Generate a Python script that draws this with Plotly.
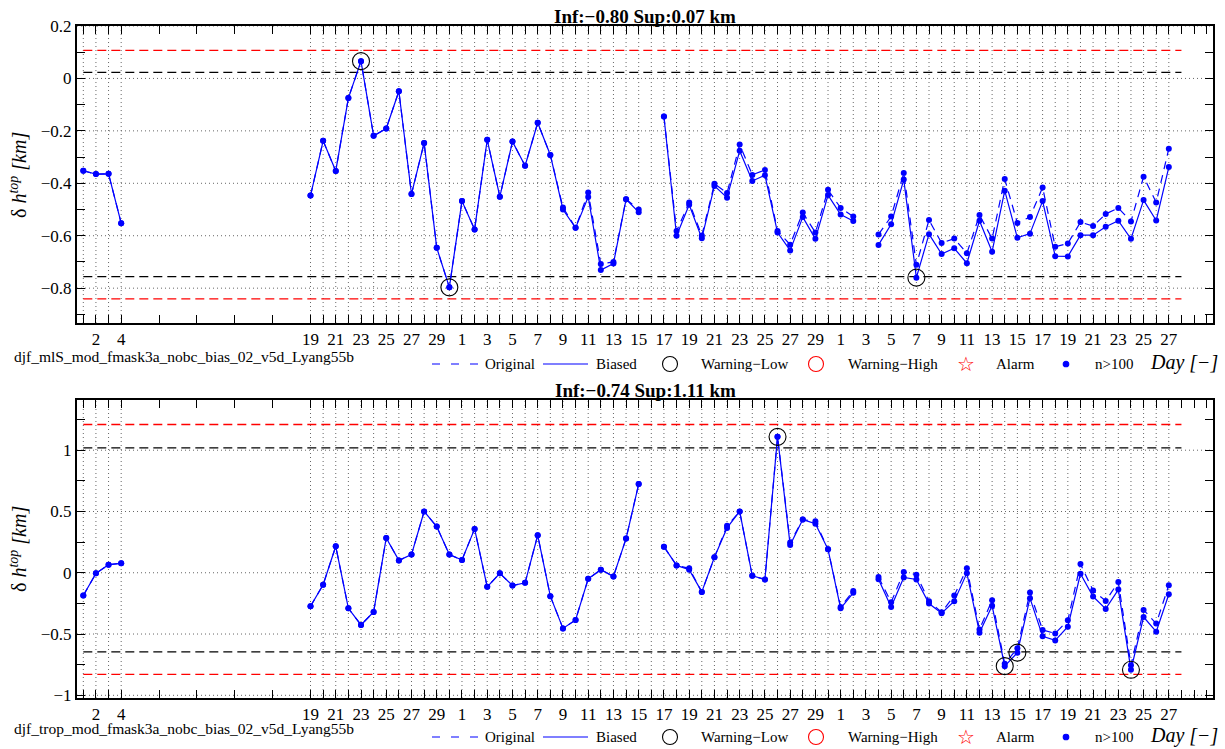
import plotly.graph_objects as go

# ---------------- data ----------------
days = [1, 2, 3, 4] + list(range(19, 46)) + list(range(47, 63)) + list(range(64, 88))

top_original = [-0.352, -0.365, -0.364, -0.552,
                -0.447, -0.238, -0.353, -0.075, 0.066, -0.219, -0.191, -0.049, -0.441, -0.246,
                -0.646, -0.797, -0.468, -0.576, -0.234, -0.451, -0.241, -0.333, -0.169, -0.292,
                -0.492, -0.570, -0.435, -0.708, -0.700, -0.461, -0.500,
                -0.145, -0.582, -0.473, -0.599, -0.402, -0.437, -0.252, -0.368, -0.349, -0.582,
                -0.634, -0.511, -0.588, -0.425, -0.494, -0.527,
                -0.595, -0.527, -0.361, -0.711, -0.540, -0.628, -0.611, -0.667, -0.521, -0.611,
                -0.384, -0.551, -0.529, -0.416, -0.642, -0.630, -0.548, -0.563, -0.517, -0.494,
                -0.546, -0.375, -0.473, -0.268]
top_biased = [-0.352, -0.365, -0.364, -0.552,
              -0.447, -0.238, -0.353, -0.075, 0.066, -0.219, -0.191, -0.049, -0.441, -0.246,
              -0.646, -0.797, -0.468, -0.576, -0.234, -0.451, -0.241, -0.333, -0.169, -0.292,
              -0.500, -0.570, -0.452, -0.731, -0.706, -0.461, -0.510,
              -0.145, -0.600, -0.482, -0.610, -0.410, -0.455, -0.276, -0.391, -0.369, -0.588,
              -0.656, -0.529, -0.612, -0.445, -0.519, -0.544,
              -0.635, -0.556, -0.386, -0.760, -0.594, -0.670, -0.648, -0.705, -0.543, -0.661,
              -0.428, -0.608, -0.592, -0.468, -0.678, -0.679, -0.598, -0.598, -0.566, -0.543,
              -0.612, -0.464, -0.542, -0.338]

bot_original = [-0.186, -0.005, 0.066, 0.077,
                -0.273, -0.098, 0.216, -0.290, -0.426, -0.320, 0.284, 0.101, 0.148, 0.500,
                0.377, 0.148, 0.104, 0.358, -0.115, -0.005, -0.104, -0.082, 0.306, -0.191,
                -0.454, -0.385, -0.049, 0.025, -0.030, 0.279, 0.724,
                0.213, 0.060, 0.036, -0.156, 0.126, 0.383, 0.500, -0.025, -0.055, 1.109,
                0.246, 0.434, 0.420, 0.191, -0.279, -0.148,
                -0.035, -0.240, 0.006, -0.016, -0.232, -0.322, -0.186, 0.036, -0.462, -0.224,
                -0.743, -0.617, -0.161, -0.467, -0.495, -0.388, 0.071, -0.145, -0.230, -0.076,
                -0.754, -0.303, -0.415, -0.101]
bot_biased = [-0.186, -0.005, 0.066, 0.077,
              -0.273, -0.098, 0.216, -0.290, -0.426, -0.320, 0.284, 0.101, 0.148, 0.500,
              0.377, 0.148, 0.104, 0.358, -0.115, -0.005, -0.104, -0.082, 0.306, -0.191,
              -0.454, -0.385, -0.049, 0.025, -0.030, 0.279, 0.724,
              0.213, 0.060, 0.025, -0.156, 0.126, 0.366, 0.500, -0.025, -0.055, 1.109,
              0.227, 0.434, 0.400, 0.191, -0.290, -0.164,
              -0.052, -0.279, -0.038, -0.055, -0.251, -0.330, -0.232, -0.003, -0.489, -0.270,
              -0.762, -0.652, -0.207, -0.519, -0.552, -0.440, -0.008, -0.194, -0.295, -0.137,
              -0.792, -0.361, -0.481, -0.175]

# thresholds: [red high, black high, black low, red low]
top_thresholds = [0.107, 0.023, -0.756, -0.841]
bot_thresholds = [1.21, 1.019, -0.645, -0.83]
threshold_span = [1, 88]

top_title = "Inf:\u22120.80 Sup:0.07 km"
bot_title = "Inf:\u22120.74 Sup:1.11 km"
top_source = "djf_mlS_mod_fmask3a_nobc_bias_02_v5d_Lyang55b"
bot_source = "djf_trop_mod_fmask3a_nobc_bias_02_v5d_Lyang55b"

grid_days = [1, 2, 3, 4] + list(range(19, 88))
labeled_days = [2, 4] + list(range(19, 88, 2))
extra_tick_days = [7, 10, 13, 16, 88, 89, 90]

top_yticks = [-0.8, -0.6, -0.4, -0.2, 0, 0.2]
top_yminor = [-0.9, -0.7, -0.5, -0.3, -0.1, 0.1]
bot_yticks = [-1, -0.5, 0, 0.5, 1]
bot_yminor = [-0.75, -0.25, 0.25, 0.75, 1.25]

# ---------------- helpers ----------------
W, H = 1225, 749
ML, MR, MT, MB = 77, 12, 26, 51
PW, PH = W - ML - MR, H - MT - MB


def px(x):
    return (x - ML) / PW


def py(y):
    return (H - MB - y) / PH


def with_gaps(d, v):
    xs, ys = [], []
    prev = None
    for di, vi in zip(d, v):
        if prev is not None and di - prev > 1:
            xs.append(None)
            ys.append(None)
        xs.append(di)
        ys.append(vi)
        prev = di
    return xs, ys


def fmt(v):
    s = ("%g" % v)
    return s.replace("-", "\u2212")


BLUE = "#0000ff"
SERIF = "'Liberation Serif', 'Times New Roman', Times, serif"
GRID = dict(color="#666666", width=1, dash="1px,3px")

fig = go.Figure()
shapes = []

panels = [
    ("x", "y", top_original, top_biased, top_thresholds, top_yticks),
    ("x2", "y2", bot_original, bot_biased, bot_thresholds, bot_yticks),
]
for xa, ya, orig, bias, thr, yt in panels:
    # dotted grid lines at the labelled y values and at the day ticks with data coverage
    for d in grid_days:
        shapes.append(dict(type="line", xref=xa, yref=ya + " domain", x0=d, x1=d, y0=0, y1=1,
                           line=GRID, layer="below"))
    for v in yt:
        shapes.append(dict(type="line", xref=xa + " domain", yref=ya, x0=0, x1=1, y0=v, y1=v,
                           line=GRID, layer="below"))
    for val, col in zip(thr, ["red", "black", "black", "red"]):
        fig.add_trace(go.Scatter(x=threshold_span, y=[val, val], mode="lines",
                                 line=dict(color=col, width=1.3, dash="9px,5px"),
                                 xaxis=xa, yaxis=ya, showlegend=False, hoverinfo="skip"))
    xo, yo = with_gaps(days, orig)
    fig.add_trace(go.Scatter(x=xo, y=yo, mode="lines+markers",
                             line=dict(color=BLUE, width=1.2, dash="8px,6px"),
                             marker=dict(color=BLUE, size=6),
                             xaxis=xa, yaxis=ya, showlegend=False))
    xb, yb = with_gaps(days, bias)
    fig.add_trace(go.Scatter(x=xb, y=yb, mode="lines+markers",
                             line=dict(color=BLUE, width=1.2),
                             marker=dict(color=BLUE, size=6),
                             xaxis=xa, yaxis=ya, showlegend=False))
    wx = [d for d, b in zip(days, bias) if b > thr[1] or b < thr[2]]
    wy = [b for d, b in zip(days, bias) if b > thr[1] or b < thr[2]]
    fig.add_trace(go.Scatter(x=wx, y=wy, mode="markers",
                             marker=dict(symbol="circle-open", size=17, color="black",
                                         line=dict(width=1.1, color="black")),
                             xaxis=xa, yaxis=ya, showlegend=False, cliponaxis=False))

tickfont = dict(family=SERIF, size=17, color="black")
common = dict(showline=True, linewidth=2, linecolor="black", mirror="ticks",
              ticks="inside", ticklen=8, tickwidth=1.2, tickcolor="black",
              showgrid=False, zeroline=False, tickfont=tickfont, automargin=False)

xtickvals = sorted(grid_days + extra_tick_days)
xticktext = [str((d - 1) % 30 + 1) if d in labeled_days else "" for d in xtickvals]
xaxis_cfg = dict(common, range=[0.5, 90.5], tickmode="array", tickvals=xtickvals, ticktext=xticktext)


def yaxis_cfg(major, minor, rng, dom, anchor):
    vals = sorted(major + minor)
    text = [fmt(v) if v in major else "" for v in vals]
    return dict(common, anchor=anchor, domain=dom, range=rng, tickmode="array",
                tickvals=vals, ticktext=text)


fig.update_layout(
    width=W, height=H,
    margin=dict(l=ML, r=MR, t=MT, b=MB, autoexpand=False),
    paper_bgcolor="white", plot_bgcolor="white",
    showlegend=False,
    font=dict(family=SERIF, color="black"),
    xaxis=dict(xaxis_cfg, anchor="y", domain=[0, 1]),
    xaxis2=dict(xaxis_cfg, anchor="y2", domain=[0, 1]),
    yaxis=yaxis_cfg(top_yticks, top_yminor, [-0.933, 0.2], [0.558, 1.0], "x"),
    yaxis2=yaxis_cfg(bot_yticks, bot_yminor, [-1.022, 1.41], [0, 0.4435], "x2"),
)

annotations = []
ylabel = "\u03b4 <i>h</i><sup><i>top</i></sup> <i>[km]</i>"

for title, source, title_y, label_y, row_y, src_y in [
    (top_title, top_source, 16, 175, 364, 356),
    (bot_title, bot_source, 390, 549, 737, 728),
]:
    annotations.append(dict(text="<b>" + title + "</b>", x=0.5, y=py(title_y), xref="paper", yref="paper",
                            xanchor="center", yanchor="middle", showarrow=False,
                            font=dict(family=SERIF, size=19, color="black")))
    annotations.append(dict(text=ylabel, x=px(18), y=py(label_y), xref="paper", yref="paper",
                            xanchor="center", yanchor="middle", showarrow=False, textangle=-90,
                            font=dict(family=SERIF, size=20, color="black")))
    annotations.append(dict(text=source, x=px(12), y=py(src_y), xref="paper", yref="paper",
                            xanchor="left", yanchor="middle", showarrow=False,
                            font=dict(family=SERIF, size=15.5, color="black")))
    # legend row
    for txt, x0 in [("Original", 483), ("Biased", 594), ("Warning\u2212Low", 699),
                    ("Warning\u2212High", 846), ("Alarm", 994), ("n&gt;100", 1093)]:
        annotations.append(dict(text=txt, x=px(x0), y=py(row_y), xref="paper", yref="paper",
                                xanchor="left", yanchor="middle", showarrow=False,
                                font=dict(family=SERIF, size=15, color="black")))
    annotations.append(dict(text="\u2606", x=px(966), y=py(row_y), xref="paper", yref="paper",
                            xanchor="center", yanchor="middle", showarrow=False,
                            font=dict(family="DejaVu Sans", size=20, color="red")))
    annotations.append(dict(text="<i>Day [\u2212]</i>", x=px(1148), y=py(row_y - 2), xref="paper",
                            yref="paper", xanchor="left", yanchor="middle", showarrow=False,
                            font=dict(family=SERIF, size=20, color="black")))
    shapes.append(dict(type="line", xref="paper", yref="paper", x0=px(432), x1=px(478),
                       y0=py(row_y), y1=py(row_y), line=dict(color=BLUE, width=1.2, dash="8px,11px")))
    shapes.append(dict(type="line", xref="paper", yref="paper", x0=px(543), x1=px(588),
                       y0=py(row_y), y1=py(row_y), line=dict(color=BLUE, width=1.2)))
    for cx, col, r, fill in [(670, "black", 7.5, None), (816, "red", 7.5, None), (1066, BLUE, 2.8, BLUE)]:
        shapes.append(dict(type="circle", xref="paper", yref="paper",
                           x0=px(cx - r), x1=px(cx + r), y0=py(row_y + r), y1=py(row_y - r),
                           line=dict(color=col, width=1.1), fillcolor=fill))

fig.update_layout(annotations=annotations, shapes=shapes)
fig.write_html("out.html", config={"displayModeBar": False},
               post_script="document.body.style.margin='0';document.body.style.overflow='hidden';")
